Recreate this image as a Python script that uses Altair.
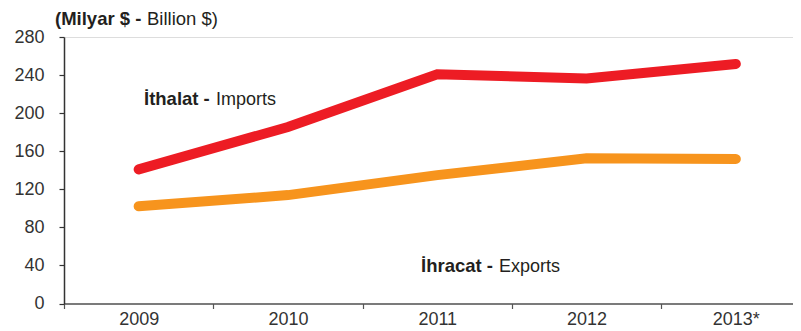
import altair as alt
import pandas as pd

years = ["2009", "2010", "2011", "2012", "2013*"]
imports = [140.9, 185.5, 240.8, 236.5, 251.7]
exports = [102.1, 113.9, 134.9, 152.5, 151.8]
series_names = ["Imports", "Exports"]
series_colors = ["#ED1C24", "#F7941D"]
y_ticks = [0, 40, 80, 120, 160, 200, 240, 280]

rows = []
for y, v in zip(years, imports):
    rows.append({"year": y, "series": "Imports", "value": v})
for y, v in zip(years, exports):
    rows.append({"year": y, "series": "Exports", "value": v})
df = pd.DataFrame(rows)

FONT = "Liberation Sans, Arial, Helvetica, sans-serif"

lines = alt.Chart(df).mark_line(strokeWidth=10, strokeCap="round", strokeJoin="miter").encode(
    x=alt.X("year:N", sort=years,
            scale=alt.Scale(type="band", paddingInner=0, paddingOuter=0, range=[0, 746.5]),
            axis=alt.Axis(title=None, tickBand="extent", tickSize=5, labelAngle=0,
                          labelFontSize=18, labelColor="#333333", labelFont=FONT,
                          labelPadding=2, domainColor="#555555", tickColor="#555555",
                          domainWidth=1.5, tickWidth=1.2)),
    y=alt.Y("value:Q", scale=alt.Scale(domain=[0, 280], nice=False),
            axis=alt.Axis(title=None, values=y_ticks, grid=False, tickSize=5,
                          labelPadding=15, labelFontSize=18, labelColor="#333333",
                          labelFont=FONT, domainColor="#333333", tickColor="#333333",
                          domainWidth=1.5, tickWidth=1.2)),
    color=alt.Color("series:N", scale=alt.Scale(domain=series_names, range=series_colors),
                    legend=None),
    detail="series:N",
)

def txt(s, x, y, bold, size=18):
    return alt.Chart(pd.DataFrame({"t": [s]})).mark_text(
        align="left", baseline="alphabetic", fontSize=size, font=FONT,
        fontWeight="bold" if bold else "normal", color="#231F20"
    ).encode(text="t:N", x=alt.value(x), y=alt.value(y))

labels = [
    txt("(Milyar $ -", -9, -12, True, 18.5),
    txt("Billion $)", 83, -12, False, 18.5),
    txt("İthalat -", 80, 68, True, 18.5),
    txt("Imports", 152, 68, False),
    txt("İhracat -", 357, 235, True, 18.5),
    txt("Exports", 435, 235, False),
]

chart = alt.layer(lines, *labels).properties(
    width=729, height=266.5,
    autosize=alt.AutoSizeParams(type="none"),
    padding={"left": 56, "top": 29, "right": 0, "bottom": 26},
).configure_view(stroke=None).configure(background="white")

chart.save("out.html", embed_options={"renderer": "svg", "actions": False})
